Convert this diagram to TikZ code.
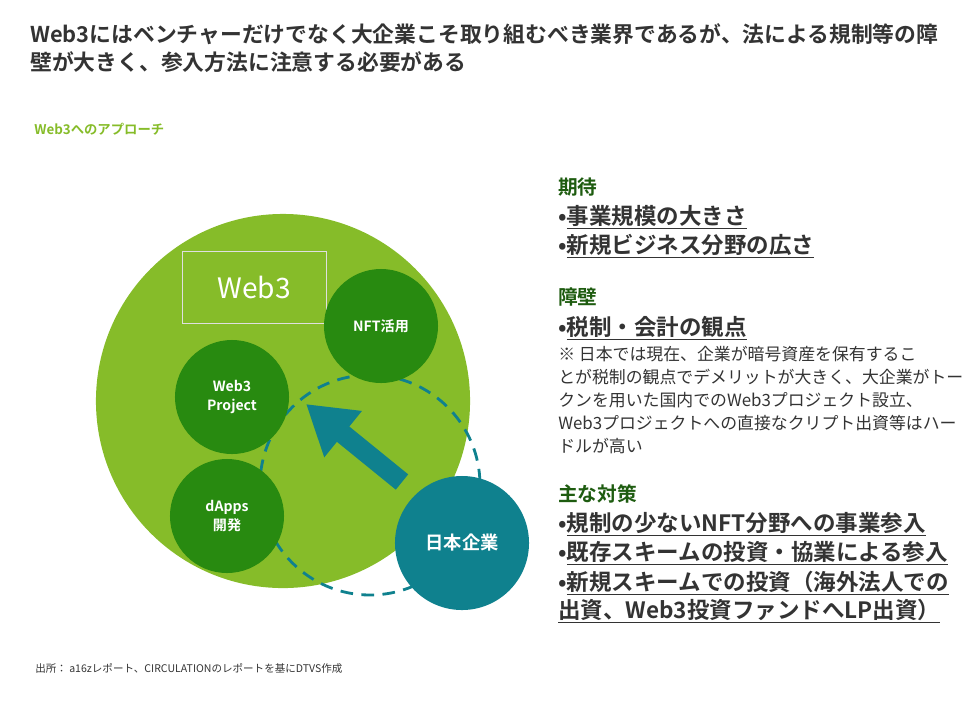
\documentclass[tikz,border=0pt]{standalone}
\usepackage{fontspec}
\setmainfont{Noto Sans CJK JP}[BoldFont={Noto Sans CJK JP Bold}]
\usetikzlibrary{arrows.meta,positioning}
\definecolor{wlime}{HTML}{86BC29}
\definecolor{wdark}{HTML}{288A10}
\definecolor{wteal}{HTML}{0F818E}
\definecolor{whead}{HTML}{1E5C10}
\definecolor{wtext}{HTML}{333333}

\begin{document}
\begin{tikzpicture}[x=0.025cm,y=-0.025cm,
  sub/.style={circle,fill=wdark,minimum size=114\pgflinewidth*0+2.85cm,inner sep=0pt,
              text=white,font=\fontsize{10}{13}\selectfont\bfseries,align=center},
  head/.style={anchor=base west,text=whead,font=\fontsize{14}{16}\selectfont\bfseries,inner sep=0pt},
  item/.style={anchor=base west,text=wtext,font=\fontsize{16}{18}\selectfont\bfseries,inner sep=0pt},
  note/.style={anchor=base west,text=wtext,font=\fontsize{12}{14}\selectfont,inner sep=0pt}
]
\useasboundingbox (0,0) rectangle (975,700);

% ---- Title ---------------------------------------------------
\node[anchor=base west,inner sep=0pt,text=wtext,font=\fontsize{15.5}{18}\selectfont\bfseries] (t1) at (30,42)
  {Web3にはベンチャーだけでなく大企業こそ取り組むべき業界であるが、法による規制等の障};
\node[anchor=base west,inner sep=0pt,text=wtext,font=\fontsize{15.5}{18}\selectfont\bfseries] (t2) at (30,70)
  {壁が大きく、参入方法に注意する必要がある};
\node[anchor=base west,inner sep=0pt,text=wlime,font=\fontsize{9.5}{11}\selectfont\bfseries] (sub) at (34,134)
  {Web3へのアプローチ};

% ---- Circles -------------------------------------------------
\node[circle,fill=wlime,minimum size=9.35cm,inner sep=0pt] (web) at (283,401) {};
\node[draw=white!75!gray,thin,minimum width=3.6cm,minimum height=1.8cm,text=white,
      font=\fontsize{20}{22}\selectfont] (box) at (254,287) {Web3};
\draw[wteal,line width=2pt,dash pattern=on 9pt off 6pt] (370,485) circle[radius=110];
\node[sub] (nft) at (381,326) {NFT活用};
\node[sub] (proj) at (232,397) {Web3\\Project};
\node[sub] (dapp) at (227,516) {dApps\\開発};
\node[circle,fill=wteal,minimum size=3.35cm,inner sep=0pt,text=white,
      font=\fontsize{13}{15}\selectfont\bfseries] (jp) at (462,543) {日本企業};
\coordinate (tail) at (402,482);
\coordinate (tip) at (306,404);
\draw[wteal,line width=14pt,-{Triangle[length=34pt,width=40pt]}] (tail) -- (tip);

% ---- Right column --------------------------------------------
\node[head] (h1) at (558,194) {期待};
\node[item] (e1) at (558,224) {•\underline{事業規模の大きさ}};
\node[item] (e2) at (558,253) {•\underline{新規ビジネス分野の広さ}};
\node[head] (h2) at (558,304) {障壁};
\node[item] (b1) at (558,335) {•\underline{税制・会計の観点}};
\node[note] (n1) at (558,360) {※ 日本では現在、企業が暗号資産を保有するこ};
\node[note] (n2) at (558,383) {とが税制の観点でデメリットが大きく、大企業がトー};
\node[note] (n3) at (558,406) {クンを用いた国内でのWeb3プロジェクト設立、};
\node[note] (n4) at (558,429) {Web3プロジェクトへの直接なクリプト出資等はハー};
\node[note] (n5) at (558,452) {ドルが高い};
\node[head] (h3) at (558,501) {主な対策};
\node[item] (m1) at (558,531) {•\underline{規制の少ないNFT分野への事業参入}};
\node[item] (m2) at (558,560) {•\underline{既存スキームの投資・協業による参入}};
\node[item] (m3) at (558,590) {•\underline{新規スキームでの投資（海外法人での}};
\node[item] (m4) at (558,618) {\underline{出資、Web3投資ファンドへLP出資）}};

% ---- Footer --------------------------------------------------
\node[anchor=base west,inner sep=0pt,text=wtext,font=\fontsize{7.5}{9}\selectfont] (src) at (35,672)
  {出所： a16zレポート、CIRCULATIONのレポートを基にDTVS作成};
\end{tikzpicture}
\end{document}
